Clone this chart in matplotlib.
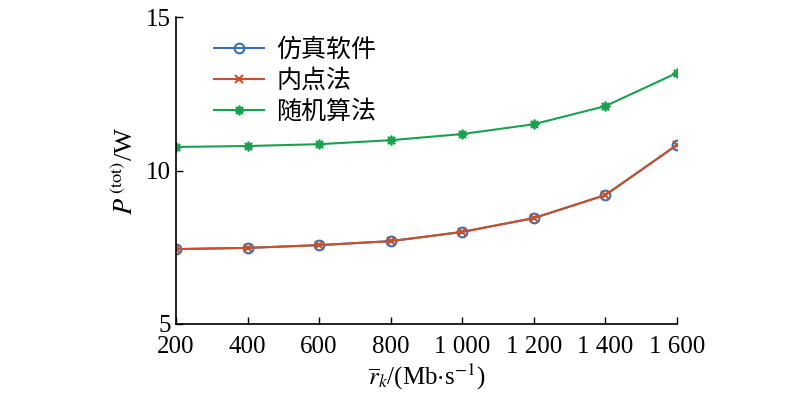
import matplotlib.pyplot as plt
import numpy as np

plt.rcParams['font.family'] = ['Liberation Serif', 'Noto Sans CJK SC']
plt.rcParams['mathtext.fontset'] = 'stix'

rate = [200, 400, 600, 800, 1000, 1200, 1400, 1600]
sim = [7.44, 7.48, 7.57, 7.70, 8.00, 8.45, 9.20, 10.83]
ipm = [7.44, 7.48, 7.57, 7.70, 8.00, 8.45, 9.20, 10.83]
rnd = [10.77, 10.80, 10.86, 10.99, 11.19, 11.51, 12.10, 13.18]
labels = ['仿真软件', '内点法', '随机算法']
xticklabels = ['200', '400', '600', '800', '1 000', '1 200', '1 400', '1 600']

fig = plt.figure(figsize=(8, 3.99), dpi=100)
ax = fig.add_axes([0.22, 0.188, 0.626, 0.769])

ax.plot(rate, sim, color='#3a6fb5', marker='o', markersize=7, markerfacecolor='none',
        markeredgewidth=1.5, linewidth=1.5, label=labels[0])
ax.plot(rate, ipm, color='#c8502a', marker='x', markersize=6, markeredgewidth=1.5,
        linewidth=1.5, label=labels[1])
ax.plot(rate, rnd, color='#1aa150', marker=(8, 2, 0), markersize=7, markeredgewidth=1.3,
        linewidth=1.5, label=labels[2])

ax.set_xlim(200, 1600)
ax.set_ylim(5, 15)
ax.set_xticks(rate)
ax.set_xticklabels(xticklabels)
ax.set_yticks([5, 10, 15])
ax.spines['top'].set_visible(False)
ax.spines['right'].set_visible(False)
ax.tick_params(direction='in', labelsize=18, length=5, width=1)
ax.tick_params(axis='x', pad=9)
ax.spines['left'].set_linewidth(1.2)
ax.spines['bottom'].set_linewidth(1.2)

ax.set_xlabel(r'$\overline{r}_k$/(Mb$\cdot$s$^{-1}$)', fontsize=18, labelpad=2)
ax.set_ylabel(r'$P^{\,\mathrm{(tot)}}$/W', fontsize=19, labelpad=6)

leg = ax.legend(loc='upper left', bbox_to_anchor=(0.03, 1.01), frameon=False,
                prop={'family': 'Noto Sans CJK SC', 'size': 18},
                handlelength=2.0, handletextpad=0.5, labelspacing=0.2)

fig.savefig('out.png', dpi=100)
